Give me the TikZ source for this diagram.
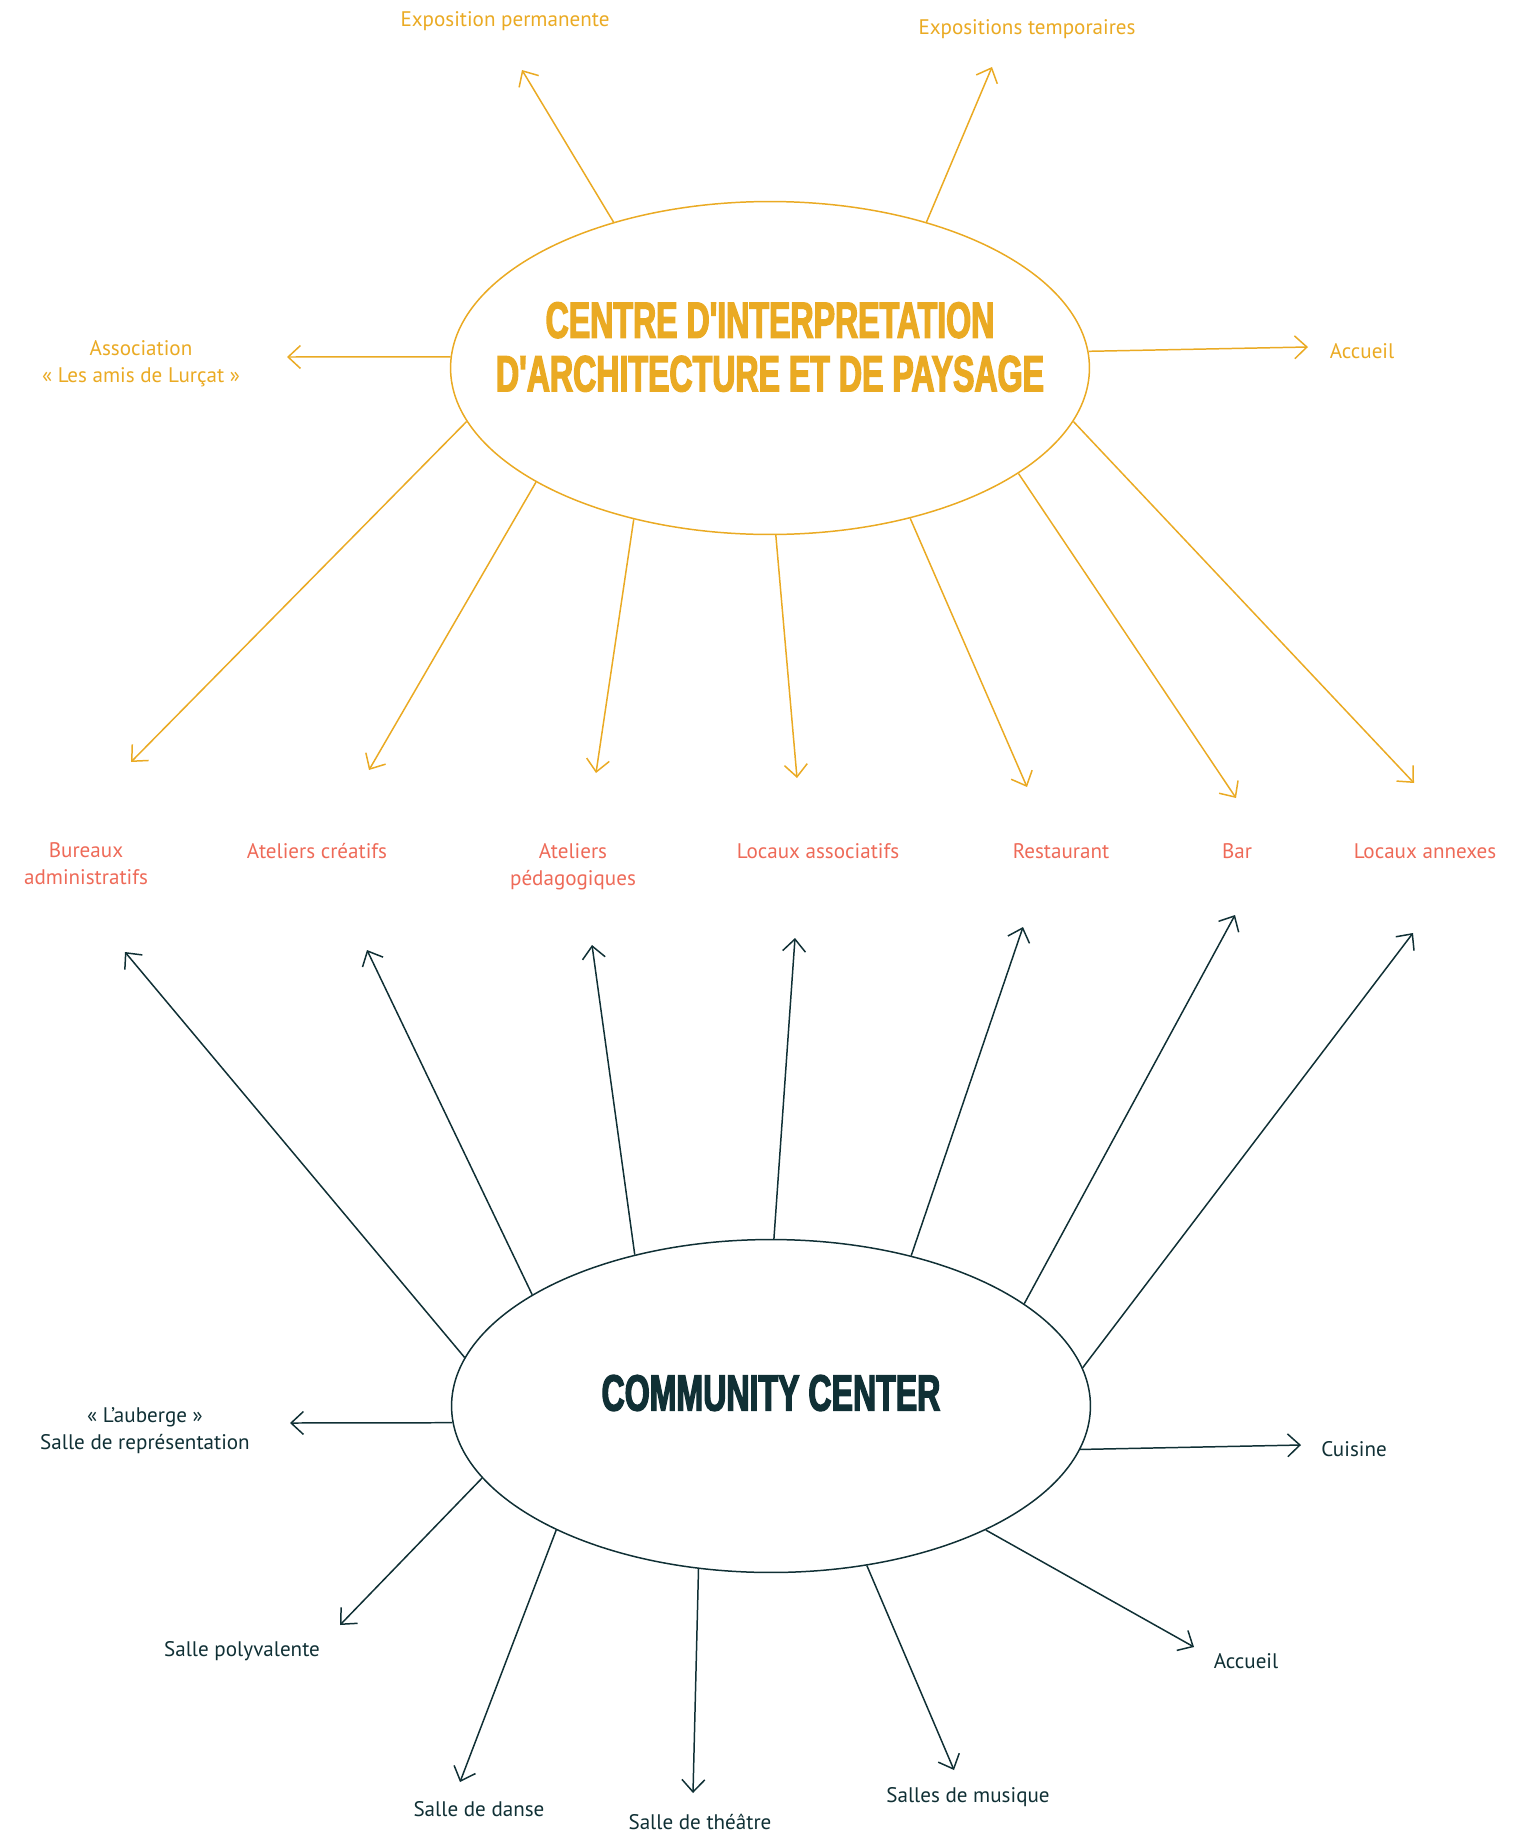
\documentclass[tikz,border=0pt]{standalone}
\usepackage{fontspec}
\setmainfont{PT Sans}
\newfontfamily\titlefont[FakeStretch=0.63, FakeBold=2.5]{Liberation Sans}
\usetikzlibrary{positioning}
\usetikzlibrary{shapes.geometric}
\usetikzlibrary{arrows.meta}
\definecolor{ciaorange}{RGB}{234,170,35}
\definecolor{roomcoral}{RGB}{238,106,88}
\definecolor{ccdark}{RGB}{16,48,53}

\begin{document}
\begin{tikzpicture}[x=0.02cm, y=-0.02cm,
                    hub/.style={draw, ellipse, line width=0.85pt, minimum width=12.78cm,
                                minimum height=6.66cm, inner sep=0pt},
                    hubtitle/.style={font=\titlefont\bfseries\fontsize{29}{30.5}\selectfont, align=center},
                    lbl/.style={font=\fontsize{12}{15.3}\selectfont, align=center, inner sep=0pt},
                    link/.style={line width=0.85pt, -{Straight Barb[length=7pt,width=13pt]}}]
    \useasboundingbox (0,0) rectangle (1537,1832);

    % centre d'interpretation
    \node[hub, ciaorange] (cia) at (770,368) {};
    \node[hubtitle, ciaorange] (ciatitle) at (770,347) {CENTRE D'INTERPRETATION\\D'ARCHITECTURE ET DE PAYSAGE};

    \node[lbl, ciaorange] (expo) at (505,21) {Exposition permanente};
    \node[lbl, ciaorange] (expotemp) at (1027,29) {Expositions temporaires};
    \node[lbl, ciaorange] (assoc) at (141,364) {Association\\« Les amis de Lurçat »};
    \node[lbl, ciaorange] (accueilcia) at (1362,351) {Accueil};

    % espaces partages
    \node[lbl, roomcoral] (bureaux) at (86,864) {Bureaux\\administratifs};
    \node[lbl, roomcoral] (creatifs) at (317,851) {Ateliers créatifs};
    \node[lbl, roomcoral] (pedago) at (573,867) {Ateliers\\pédagogiques};
    \node[lbl, roomcoral] (locaux) at (818,851) {Locaux associatifs};
    \node[lbl, roomcoral] (resto) at (1061,851) {Restaurant};
    \node[lbl, roomcoral] (bar) at (1237,851) {Bar};
    \node[lbl, roomcoral] (annexes) at (1425,851) {Locaux annexes};

    % community center
    \node[hub, ccdark] (cc) at (771,1406) {};
    \node[hubtitle, ccdark] (cctitle) at (771,1393) {COMMUNITY CENTER};

    \node[lbl, ccdark] (auberge) at (145,1431) {« L'auberge »\\Salle de représentation};
    \node[lbl, ccdark] (cuisine) at (1354,1449) {Cuisine};
    \node[lbl, ccdark] (polyv) at (242,1651) {Salle polyvalente};
    \node[lbl, ccdark] (danse) at (479,1809) {Salle de danse};
    \node[lbl, ccdark] (theatre) at (700,1822) {Salle de théâtre};
    \node[lbl, ccdark] (musique) at (968,1797) {Salles de musique};
    \node[lbl, ccdark] (accueilcc) at (1246,1661) {Accueil};

    % bouts des fleches
    \coordinate (t1) at (522,70);
    \coordinate (t2) at (992,67);
    \coordinate (t3) at (287,357);
    \coordinate (t4) at (1308,347);
    \coordinate (d1) at (131,762);
    \coordinate (d2) at (369,770);
    \coordinate (d3) at (596,773);
    \coordinate (d4) at (797,778);
    \coordinate (d5) at (1027,787);
    \coordinate (d6) at (1236,798);
    \coordinate (d7) at (1414,783);
    \coordinate (u1) at (125,952);
    \coordinate (u2) at (367,950);
    \coordinate (u3) at (592,945);
    \coordinate (u4) at (795,938);
    \coordinate (u5) at (1023,927);
    \coordinate (u6) at (1235,915);
    \coordinate (u7) at (1413,933);
    \coordinate (b1) at (290,1423);
    \coordinate (b2) at (1301,1445);
    \coordinate (b3) at (340,1625);
    \coordinate (b4) at (460,1782);
    \coordinate (b5) at (693,1793);
    \coordinate (b6) at (954,1770);
    \coordinate (b7) at (1194,1647);

    \begin{scope}[ciaorange]
        \draw[link] (cia.137.3) -- (t1);
        \draw[link] (cia.43.1) -- (t2);
        \draw[link] (cia.178) -- (t3);
        \draw[link] (cia.3.6) -- (t4);
        \draw[link] (cia.190.9) -- (d1);
        \draw[link] (cia.206) -- (d2);
        \draw[link] (cia.228.2) -- (d3);
        \draw[link] (cia.272.4) -- (d4);
        \draw[link] (cia.313) -- (d5);
        \draw[link] (cia.337.4) -- (d6);
        \draw[link] (cia.350.4) -- (d7);
    \end{scope}

    \begin{scope}[ccdark]
        \draw[link] (cc.171.7) -- (u1);
        \draw[link] (cc.155) -- (u2);
        \draw[link] (cc.132.6) -- (u3);
        \draw[link] (cc.89.3) -- (u4);
        \draw[link] (cc.47.8) -- (u5);
        \draw[link] (cc.22.3) -- (u6);
        \draw[link] (cc.7.7) -- (u7);
        \draw[link] (cc.183) -- (b1);
        \draw[link] (cc.352.7) -- (b2);
        \draw[link] (cc.194.5) -- (b3);
        \draw[link] (cc.210.1) -- (b4);
        \draw[link] (cc.246.6) -- (b5);
        \draw[link] (cc.301.2) -- (b6);
        \draw[link] (cc.330.7) -- (b7);
    \end{scope}
\end{tikzpicture}
\end{document}
